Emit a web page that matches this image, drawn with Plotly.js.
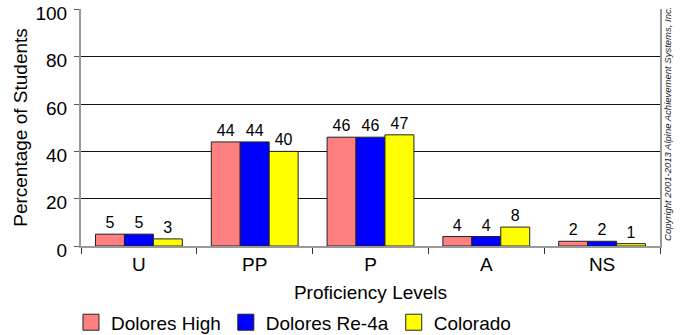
<!DOCTYPE html>
<html>
<head>
<meta charset="utf-8">
<script src="https://cdn.plot.ly/plotly-3.0.1.min.js"></script>
<style>html,body{margin:0;padding:0;background:#fff;}#chart{width:683px;height:335px;}</style>
</head>
<body>
<div id="chart"></div>
<script>
const categories = ["U", "PP", "P", "A", "NS"];
const seriesNames = ["Dolores High", "Dolores Re-4a", "Colorado"];
const doloresHigh = [5, 44, 46, 4, 2];
const doloresRe4a = [5, 44, 46, 4, 2];
const colorado = [3, 40, 47, 8, 1];
const yTicks = [0, 20, 40, 60, 80, 100];
const colors = ["#FF8080", "#0000FF", "#FFFF00"];
const FONT = "Liberation Sans, Arial, sans-serif";

const seriesValues = [doloresHigh, doloresRe4a, colorado];
const traces = [];
seriesValues.forEach((vals, i) => {
  traces.push({
    type: "bar",
    x: categories,
    y: vals,
    name: seriesNames[i],
    showlegend: false,
    marker: {color: colors[i], line: {color: "#222", width: 1}},
    text: vals.map(String),
    textposition: "outside",
    textfont: {family: FONT, size: 16, color: "#000"},
    cliponaxis: false,
    hoverinfo: "none"
  });
});
// legend proxies
seriesValues.forEach((vals, i) => {
  traces.push({
    type: "scatter",
    mode: "markers",
    x: [null], y: [null],
    name: seriesNames[i],
    marker: {symbol: "square", size: 18, color: colors[i], line: {color: "#222", width: 1}},
    showlegend: true,
    hoverinfo: "none"
  });
});

const layout = {
  width: 683, height: 335,
  margin: {l: 81, r: 23, t: 9, b: 89.3, pad: 0, autoexpand: false},
  paper_bgcolor: "#fff", plot_bgcolor: "#fff",
  font: {family: FONT, size: 19, color: "#000"},
  barmode: "group",
  bargap: 0.25,
  bargroupgap: 0,
  showlegend: true,
  legend: {
    orientation: "h", x: -0.0173, xanchor: "left", y: -0.242, yanchor: "top",
    font: {family: FONT, size: 19, color: "#000"},
    itemclick: false, traceorder: "normal"
  },
  xaxis: {
    type: "category",
    range: [-0.5, 4.5],
    tickson: "boundaries",
    ticks: "outside", ticklen: 6, tickcolor: "#333", tickwidth: 1,
    showline: true, linecolor: "#999", linewidth: 2,
    showgrid: false, zeroline: false,
    tickfont: {family: FONT, size: 19, color: "#000"},
    title: {text: "Proficiency Levels", font: {family: FONT, size: 19, color: "#000"}, standoff: 12},
    fixedrange: true
  },
  yaxis: {
    range: [0, 100.2],
    tickvals: yTicks,
    ticktext: yTicks.map(String),
    ticks: "outside", ticklen: 5, tickcolor: "#555", tickwidth: 1,
    ticklabelstandoff: 3,
    ticklabelshift: 4,
    showline: true, linecolor: "#999", linewidth: 2, mirror: true,
    showgrid: true, gridcolor: "#111", gridwidth: 1,
    zeroline: false,
    tickfont: {family: FONT, size: 19, color: "#000"},
    title: {text: "Percentage of Students\u00a0\u00a0\u00a0\u00a0", font: {family: FONT, size: 19, color: "#000"}, standoff: 3},
    fixedrange: true
  },
  annotations: [{
    text: "Copyright 2001-2013 Alpine Achievement Systems, Inc.",
    xref: "paper", yref: "paper", x: 1.0138, y: 0.515,
    xanchor: "center", yanchor: "middle",
    textangle: -90, showarrow: false,
    font: {family: FONT, size: 9.5, color: "#222", style: "italic"}
  }]
};

Plotly.newPlot("chart", traces, layout, {displayModeBar: false, staticPlot: true});
</script>
</body>
</html>
